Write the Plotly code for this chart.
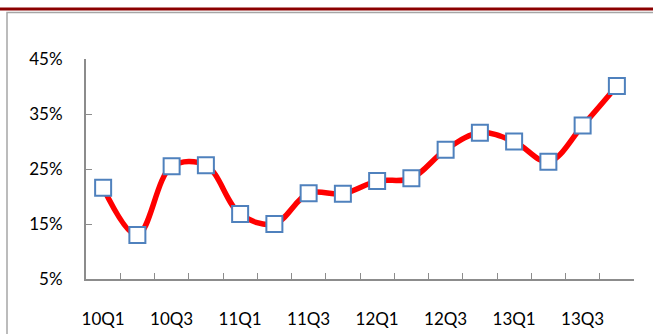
import plotly.graph_objects as go

# Quarterly growth rate, 2010Q1 - 2013Q4
quarters = ["10Q1", "10Q2", "10Q3", "10Q4",
            "11Q1", "11Q2", "11Q3", "11Q4",
            "12Q1", "12Q2", "12Q3", "12Q4",
            "13Q1", "13Q2", "13Q3", "13Q4"]
growth = [21.6, 13.0, 25.5, 25.7,
          16.8, 15.0, 20.6, 20.5,
          22.8, 23.3, 28.5, 31.6,
          30.0, 26.3, 32.9, 40.1]

y_ticks = [5, 15, 25, 35, 45]
x_labels = [q if i % 2 == 0 else "" for i, q in enumerate(quarters)]

axis_grey = "#8c8c8c"
font_family = "Lato, Carlito, 'Open Sans', sans-serif"

fig = go.Figure()
fig.add_trace(go.Scatter(
    x=quarters,
    y=growth,
    mode="lines+markers",
    line=dict(color="#ff0000", width=5.5, shape="spline", smoothing=1.0),
    marker=dict(symbol="square", size=16, color="white",
                line=dict(color="#4f81bd", width=2)),
    cliponaxis=False,
    showlegend=False,
))

fig.update_layout(
    width=653, height=334,
    margin=dict(l=86, r=19, t=59, b=55, autoexpand=False),
    paper_bgcolor="white",
    plot_bgcolor="white",
    font=dict(family=font_family, size=17, color="#000000"),
    xaxis=dict(
        type="category",
        range=[-0.5, len(quarters) - 0.5],
        tickmode="array",
        tickvals=quarters,
        ticktext=x_labels,
        tickson="boundaries",
        tickangle=0,
        automargin=False,
        ticks="inside",
        ticklen=6,
        tickwidth=1,
        tickcolor=axis_grey,
        showline=True,
        linecolor=axis_grey,
        linewidth=2,
        showgrid=False,
        zeroline=False,
        ticklabelstandoff=24,
        tickfont=dict(size=17),
    ),
    yaxis=dict(
        range=[5, 45],
        tickmode="array",
        tickvals=y_ticks,
        ticktext=[f"{v}%" for v in y_ticks],
        automargin=False,
        ticks="inside",
        ticklen=6,
        tickwidth=1,
        tickcolor=axis_grey,
        showline=True,
        linecolor=axis_grey,
        linewidth=2,
        showgrid=False,
        zeroline=False,
        ticklabelstandoff=18,
        tickfont=dict(size=17),
    ),
    shapes=[
        # dark red rule across the top of the page
        dict(type="line", xref="paper", yref="paper",
             x0=-0.2, x1=1.1, y0=(279 - 9) / 220, y1=(279 - 9) / 220,
             line=dict(color="#8b0000", width=3)),
        # chart frame
        dict(type="rect", xref="paper", yref="paper",
             x0=(7 - 86) / 548, x1=1.1,
             y0=-0.4, y1=(279 - 12.5) / 220,
             line=dict(color="#a6a6a6", width=1.5),
             fillcolor="rgba(0,0,0,0)", layer="below"),
    ],
)

fig.write_html("out.html")
